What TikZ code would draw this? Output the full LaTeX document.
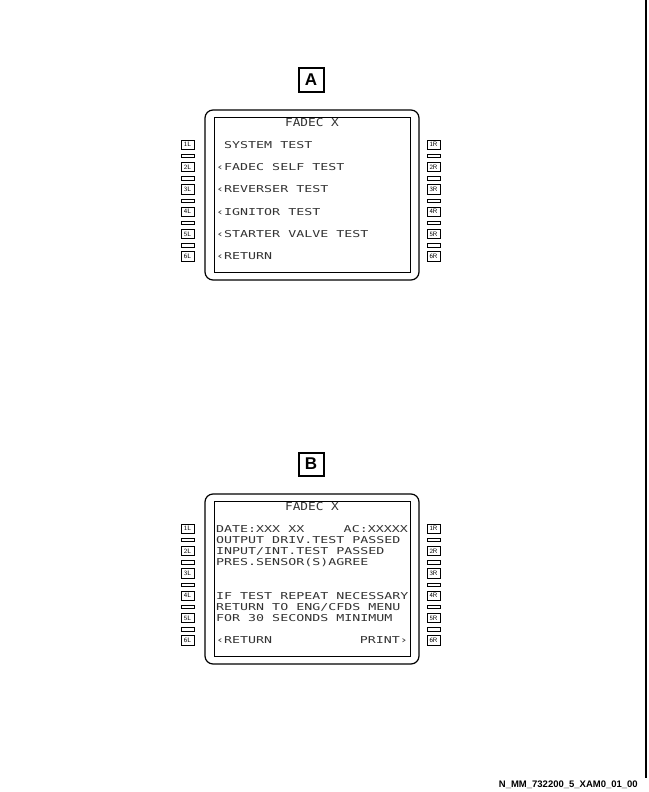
\documentclass[tikz,border=0pt]{standalone}
\usepackage{fontspec}
\newfontfamily\cdufont[FakeStretch=1.4]{DejaVu Sans Mono}
\newfontfamily\cdutitlefont[FakeStretch=1.16]{DejaVu Sans Mono}
\newfontfamily\reffont{Liberation Sans}
\tikzset{
  tagbox/.style={draw, line width=2pt, minimum width=25pt, minimum height=23pt, inner sep=0pt,
    font=\reffont\bfseries\fontsize{17}{17}\selectfont},
  bezel/.style={line width=1.2pt, rounded corners=8pt},
  screen/.style={line width=1pt},
  lsk/.style={draw, line width=0.6pt, minimum width=13pt, minimum height=9.5pt, inner sep=0pt,
    font=\sffamily\fontsize{6.5}{6.5}\selectfont},
  lskbar/.style={draw, line width=0.6pt, minimum width=13pt, minimum height=3.4pt, inner sep=0pt},
  cdu/.style={anchor=base west, inner sep=0pt, text=black!80, font=\cdufont\fontsize{9.5}{9.5}\selectfont},
  cdutitle/.style={anchor=base, inner sep=0pt, text=black!80, font=\cdutitlefont\fontsize{11}{11}\selectfont}
}
\begin{document}
\begin{tikzpicture}[x=1pt, y=-1pt]
    \useasboundingbox (0, 0) rectangle (648, 792);
        \draw[line width=1.5pt] (646, 0) -- (646, 778);
        % the two display pages, same frame and keys
        \foreach \p/\tag in {0/A, 384/B} {
            \node[tagbox] (tag\tag) at (311, 80 + \p) {\tag};
            \draw[bezel] (205, 110 + \p) rectangle (419, 280 + \p);
            \draw[screen] (214, 117 + \p) rectangle (410, 272 + \p);
            \node[cdutitle] (title\tag) at (312, 126.5 + \p) {FADEC X};
            \foreach \i in {1, ..., 6} {
                \node[lsk] (lsk\i L\tag) at (187.5, 122.4 + 22.3 * \i + \p) {\i L};
                \node[lsk] (lsk\i R\tag) at (433.5, 122.4 + 22.3 * \i + \p) {\i R};
            }
            \foreach \i in {1, ..., 5} {
                \node[lskbar] (barL\i\tag) at (187.5, 133.6 + 22.3 * \i + \p) {};
                \node[lskbar] (barR\i\tag) at (433.5, 133.6 + 22.3 * \i + \p) {};
            }
        }
        % page A
        \node[cdu] (sysA) at (216, 148.3) {\hphantom{‹}SYSTEM TEST};
        \node[cdu] (selfA) at (216, 170.6) {‹FADEC SELF TEST};
        \node[cdu] (revA) at (216, 192.9) {‹REVERSER TEST};
        \node[cdu] (ignA) at (216, 215.2) {‹IGNITOR TEST};
        \node[cdu] (stvA) at (216, 237.5) {‹STARTER VALVE TEST};
        \node[cdu] (retA) at (216, 259.8) {‹RETURN};
        % page B
        \node[cdu] (dateB) at (216, 532.3) {DATE:XXX XX};
        \node[cdu, anchor=base east] (acB) at (408, 532.3) {AC:XXXXX};
        \node[cdu] (outB) at (216, 543.5) {OUTPUT DRIV.TEST PASSED};
        \node[cdu] (inB) at (216, 554.6) {INPUT/INT.TEST PASSED};
        \node[cdu] (presB) at (216, 565.8) {PRES.SENSOR(S)AGREE};
        \node[cdu] (ifB) at (216, 599.2) {IF TEST REPEAT NECESSARY};
        \node[cdu] (rtoB) at (216, 610.4) {RETURN TO ENG/CFDS MENU};
        \node[cdu] (forB) at (216, 621.5) {FOR 30 SECONDS MINIMUM};
        \node[cdu] (retB) at (216, 643.8) {‹RETURN};
        \node[cdu, anchor=base east] (printB) at (408, 643.8) {PRINT›};
        \node[anchor=base east, inner sep=0pt, font=\reffont\bfseries\fontsize{9.5}{9.5}\selectfont]
            (ref) at (638, 787) {N\_MM\_732200\_5\_XAM0\_01\_00};
    \end{tikzpicture}
\end{document}
